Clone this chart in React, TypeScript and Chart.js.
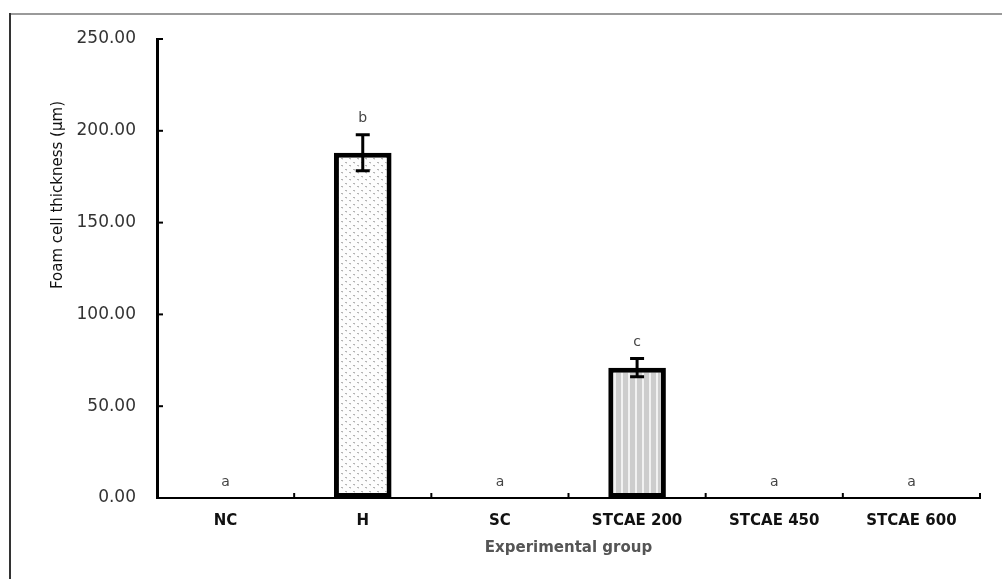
import React, { useEffect, useRef } from "react";
import { Chart, registerables } from "chart.js";

Chart.register(...registerables);

const categories = ["NC", "H", "SC", "STCAE 200", "STCAE 450", "STCAE 600"];
const meanValues = [0, 188, 0, 71, 0, 0];
const errorValues = [0, 9.8, 0, 5, 0, 0];
const letters = ["a", "b", "a", "c", "a", "a"];
const yTickValues = [0, 50, 100, 150, 200, 250];
const yTitle = "Foam cell thickness (µm)";
const xTitle = "Experimental group";

function makeDotPattern(): CanvasPattern | string {
  const c = document.createElement("canvas");
  c.width = 8;
  c.height = 7;
  const g = c.getContext("2d");
  if (!g) return "#eee";
  g.fillStyle = "#fdfdfd";
  g.fillRect(0, 0, 8, 7);
  g.fillStyle = "#b4b4b4";
  g.fillRect(1, 1, 2, 1);
  g.fillRect(5, 4, 2, 1);
  g.fillStyle = "#dedede";
  g.fillRect(2, 2, 1, 1);
  g.fillRect(6, 5, 1, 1);
  return g.createPattern(c, "repeat") || "#eee";
}

function makeStripePattern(): CanvasPattern | string {
  const c = document.createElement("canvas");
  c.width = 7;
  c.height = 4;
  const g = c.getContext("2d");
  if (!g) return "#ccc";
  g.fillStyle = "#cdcdcd";
  g.fillRect(0, 0, 7, 4);
  g.fillStyle = "#f2f2f2";
  g.fillRect(5, 0, 2, 4);
  return g.createPattern(c, "repeat") || "#ccc";
}

const framePlugin = {
  id: "frame",
  beforeDraw(chart: any) {
    const ctx = chart.ctx;
    ctx.save();
    ctx.fillStyle = "#ffffff";
    ctx.fillRect(0, 0, chart.width, chart.height);
    ctx.strokeStyle = "#9a9a9a";
    ctx.lineWidth = 2;
    ctx.beginPath();
    ctx.moveTo(9, 14);
    ctx.lineTo(chart.width, 14);
    ctx.stroke();
    ctx.strokeStyle = "#333333";
    ctx.beginPath();
    ctx.moveTo(10, 13);
    ctx.lineTo(10, chart.height);
    ctx.stroke();
    ctx.restore();
  },
};

const decorPlugin = {
  id: "decor",
  afterDatasetsDraw(chart: any) {
    const ctx = chart.ctx;
    const x = chart.scales.x;
    const y = chart.scales.y;
    const meta = chart.getDatasetMeta(0);
    ctx.save();
    ctx.strokeStyle = "#000";
    ctx.lineWidth = 2;
    yTickValues.forEach((v) => {
      const py = y.getPixelForValue(v);
      ctx.beginPath();
      ctx.moveTo(x.left, py);
      ctx.lineTo(x.left + 6, py);
      ctx.stroke();
    });
    for (let i = 1; i <= categories.length; i++) {
      const px = x.getPixelForValue(i - 0.5);
      ctx.beginPath();
      ctx.moveTo(px, y.bottom);
      ctx.lineTo(px, y.bottom - 5);
      ctx.stroke();
    }
    ctx.lineWidth = 3;
    meanValues.forEach((m, i) => {
      const e = errorValues[i];
      if (!e) return;
      const px = meta.data[i].x;
      const top = y.getPixelForValue(m + e);
      const bot = y.getPixelForValue(m - e);
      ctx.beginPath();
      ctx.moveTo(px, top);
      ctx.lineTo(px, bot);
      ctx.moveTo(px - 7, top);
      ctx.lineTo(px + 7, top);
      ctx.moveTo(px - 7, bot);
      ctx.lineTo(px + 7, bot);
      ctx.stroke();
    });
    ctx.fillStyle = "#444";
    ctx.font = "14px 'DejaVu Sans', sans-serif";
    ctx.textAlign = "center";
    ctx.textBaseline = "middle";
    meanValues.forEach((m, i) => {
      const px = meta.data[i].x;
      const py = y.getPixelForValue(m + errorValues[i]) - 16;
      ctx.fillText(letters[i], px, py);
    });
    ctx.fillStyle = "#111";
    ctx.font = "15px 'Liberation Sans Narrow', 'DejaVu Sans Condensed', 'Liberation Sans', sans-serif";
    const w = ctx.measureText(yTitle).width;
    const target = 188;
    ctx.translate(58, 195);
    ctx.rotate(-Math.PI / 2);
    ctx.scale(target / w, 1);
    ctx.fillText(yTitle, 0, 0);
    ctx.restore();
  },
};

export default function App() {
  const ref = useRef<HTMLCanvasElement | null>(null);
  useEffect(() => {
    if (!ref.current) return;
    const dots = makeDotPattern();
    const stripes = makeStripePattern();
    const fills = meanValues.map((_, i) => (i === 1 ? dots : i === 3 ? stripes : "#ffffff"));
    const chart = new Chart(ref.current, {
      type: "bar",
      data: {
        labels: categories,
        datasets: [
          {
            data: meanValues,
            backgroundColor: fills as any,
            borderColor: "#000000",
            borderWidth: (c: any) => (c.raw === 0 ? 0 : 5),
            borderSkipped: false,
            barPercentage: 0.42,
            categoryPercentage: 1,
          },
        ],
      },
      options: {
        responsive: false,
        animation: false,
        devicePixelRatio: 1,
        layout: { padding: { left: 0, right: 22, top: 39, bottom: 0 } },
        plugins: { legend: { display: false }, tooltip: { enabled: false } },
        scales: {
          x: {
            offset: true,
            grid: { display: false, drawTicks: false },
            border: { display: true, color: "#000", width: 2 },
            ticks: {
              autoSkip: false,
              maxRotation: 0,
              padding: 14,
              color: "#111",
              font: { family: "'DejaVu Sans', sans-serif", size: 15, weight: "bold" },
            },
            title: {
              display: true,
              text: xTitle,
              color: "#555",
              font: { family: "'DejaVu Sans', sans-serif", size: 15, weight: "bold" },
              padding: { top: 0, bottom: 22 },
            },
            afterFit: (s: any) => {
              s.height = 81;
            },
          },
          y: {
            min: 0,
            max: 250,
            grid: { display: false, drawTicks: false },
            border: { display: true, color: "#000", width: 3 },
            afterBuildTicks: (s: any) => {
              s.ticks = yTickValues.map((v) => ({ value: v }));
            },
            ticks: {
              padding: 21,
              color: "#333",
              font: { family: "'DejaVu Sans', sans-serif", size: 17 },
              callback: (v: any) => Number(v).toFixed(2),
            },
            afterFit: (s: any) => {
              s.width = 157;
            },
          },
        },
      },
      plugins: [framePlugin, decorPlugin],
    });
    return () => chart.destroy();
  }, []);
  return (
    <div style={{ position: "fixed", left: 0, top: 0, width: 1002, height: 579, background: "#fff" }}>
      <canvas ref={ref} width={1002} height={579} style={{ display: "block" }} />
    </div>
  );
}
